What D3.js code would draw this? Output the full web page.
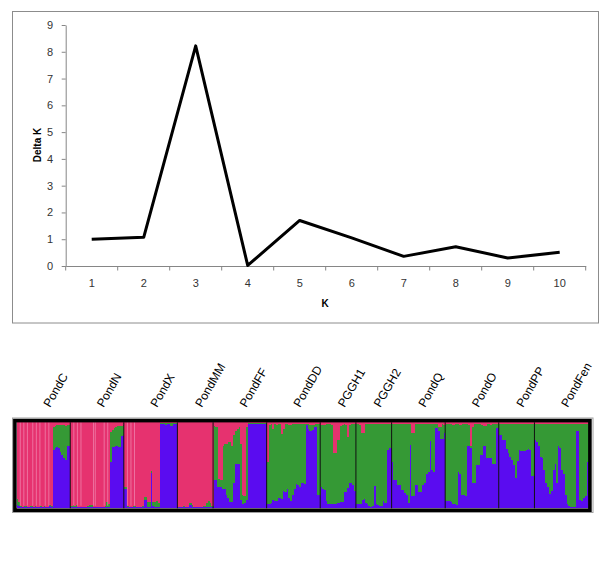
<!DOCTYPE html>
<html>
<head>
<meta charset="utf-8">
<script src="https://cdn.jsdelivr.net/npm/d3@7"></script>
<title>Delta K and STRUCTURE plot</title>
<style>
  body { margin: 0; background: #fff; }
  text { font-family: "Liberation Sans", Arial, sans-serif; }
</style>
</head>
<body>
<svg width="607" height="570"></svg>
<script>
// ---- Delta K data ----
const kValues = [1, 2, 3, 4, 5, 6, 7, 8, 9, 10];
const deltaK = [1.0, 1.07, 8.22, 0.02, 1.70, 1.05, 0.36, 0.72, 0.30, 0.51];
const yTicks = [0, 1, 2, 3, 4, 5, 6, 7, 8, 9];

// ---- STRUCTURE data (ancestry per individual, pink = 1 - blue - green) ----
const popNames = ["PondC", "PondN", "PondX", "PondMM", "PondFF", "PondDD",
                  "PGGH1", "PGGH2", "PondQ", "PondO", "PondPP", "PondFen"];

const blue_PondC = [.04,.03,.01,.01,.02,.01,.01,.01,.02,.01,.01,.01,.01,.02,.01,.01,.01,.01,.03,.02,.68,.70,.71,.70,.66,.62,.58,.56,.72,.72];
const green_PondC = [.07,.04,.02,.01,.01,.02,.01,.02,.01,.01,.02,.01,.01,.01,.01,.02,.01,.01,.01,.01,.27,.26,.26,.27,.31,.35,.39,.40,.25,.25];

const blue_PondN = [.01,.01,.01,.02,.01,.01,.01,.01,.01,.01,.01,.01,.02,.01,.01,.01,.01,.01,.01,.01,.02,.01,.54,.71,.71,.72,.72,.71,.84,.85];
const green_PondN = [.02,.03,.02,.02,.01,.01,.01,.01,.01,.02,.03,.03,.02,.01,.01,.01,.01,.01,.01,.02,.05,.04,.35,.20,.22,.22,.24,.25,.12,.12];

const blue_PondX = [.23,.23,.01,.01,.01,.01,.02,.01,.01,.01,.01,.10,.10,.02,.02,.41,.03,.02,.02,.02,.98,.98,.98,.97,.98,.98,.96,.98,.98,.98];
const green_PondX = [.02,.02,.02,.01,.01,.02,.01,.01,.01,.01,.02,.03,.03,.05,.05,.02,.04,.05,.06,.04,.01,.01,.01,.02,.01,.01,.03,.01,.01,.01];

const blue_PondMM = [.01,.01,.01,.01,.01,.01,.04,.04,.02,.01,.01,.01,.01,.01,.01,.01,.02,.02,.01,.01];
const green_PondMM = [.01,.01,.01,.02,.01,.01,.02,.02,.02,.01,.01,.01,.01,.01,.02,.02,.04,.06,.05,.02];

const blue_PondFF = [.33,.33,.25,.25,.25,.23,.23,.15,.12,.07,.07,.30,.52,.52,.52,.10,.05,.06,.10,.98,.98,.98,.98,.98,.98,.98,.98,.98,.98,.98];
const green_PondFF = [.63,.62,.70,.09,.08,.50,.52,.60,.65,.70,.65,.55,.38,.40,.42,.65,.10,.08,.85,.01,.01,.01,.01,.01,.01,.01,.01,.01,.01,.01];

const blue_PondDD = [.05,.05,.06,.10,.08,.08,.12,.12,.11,.20,.19,.22,.12,.09,.15,.22,.28,.27,.25,.30,.29,.28,.97,.92,.90,.91,.95,.95,.15,.15];
const green_PondDD = [.49,.92,.92,.82,.90,.89,.86,.86,.75,.72,.79,.76,.85,.88,.83,.76,.70,.71,.73,.68,.69,.70,.01,.06,.07,.06,.02,.03,.83,.83];

const blue_PGGH1 = [.25,.23,.21,.09,.05,.05,.05,.05,.05,.06,.06,.07,.07,.19,.19,.24,.29,.29,.27,.20];
const green_PGGH1 = [.72,.74,.76,.89,.93,.93,.92,.59,.59,.74,.74,.89,.90,.79,.78,.59,.68,.69,.71,.78];

const blue_PGGH2 = [.05,.05,.05,.10,.11,.06,.05,.03,.02,.03,.26,.05,.04,.03,.03,.08,.06,.68,.70,.70];
const green_PGGH2 = [.93,.93,.92,.77,.76,.92,.93,.95,.96,.95,.72,.93,.94,.95,.95,.90,.92,.30,.28,.28];

const blue_PondQ = [.54,.33,.33,.27,.27,.21,.21,.18,.15,.06,.74,.14,.14,.27,.27,.19,.19,.27,.30,.40,.42,.78,.45,.42,.93,.93,.90,.81,.81,.88];
const green_PondQ = [.44,.65,.65,.71,.71,.77,.77,.80,.83,.92,.24,.73,.73,.71,.71,.79,.79,.71,.68,.58,.56,.20,.53,.56,.05,.05,.05,.13,.17,.09];

const blue_PondO = [.09,.09,.08,.07,.05,.05,.04,.42,.40,.15,.15,.14,.73,.73,.70,.29,.29,.50,.50,.62,.62,.73,.73,.58,.58,.58,.52,.52,.93,.93];
const green_PondO = [.89,.89,.90,.91,.92,.93,.94,.56,.57,.83,.83,.84,.25,.24,.02,.66,.69,.48,.48,.36,.35,.23,.23,.40,.40,.39,.46,.46,.05,.05];

const blue_PondPP = [.85,.85,.79,.79,.69,.64,.60,.56,.50,.35,.55,.68,.67,.67,.67,.68,.69,.68,.38,.38];
const green_PondPP = [.13,.13,.19,.19,.29,.34,.38,.42,.48,.63,.43,.30,.31,.31,.31,.30,.29,.30,.60,.60];

const blue_PondFen = [.79,.77,.73,.60,.58,.45,.30,.25,.17,.20,.45,.52,.30,.73,.70,.44,.40,.15,.05,.03,.02,.01,.02,.90,.90,.10,.09,.12,.14,.54];
const green_PondFen = [.19,.21,.25,.38,.40,.53,.68,.73,.81,.78,.53,.46,.68,.25,.28,.54,.58,.83,.93,.95,.96,.97,.96,.08,.08,.88,.89,.86,.84,.44];

// light seams visible between some pink bars (individual index within population)
const seams_PondC = [2, 4, 6, 9, 11, 13, 16, 18];
const seams_PondN = [2, 4, 6, 13, 14, 19, 21];
const seams_PondX = [2, 4, 6];

const popBlue = [blue_PondC, blue_PondN, blue_PondX, blue_PondMM, blue_PondFF, blue_PondDD,
                 blue_PGGH1, blue_PGGH2, blue_PondQ, blue_PondO, blue_PondPP, blue_PondFen];
const popGreen = [green_PondC, green_PondN, green_PondX, green_PondMM, green_PondFF, green_PondDD,
                  green_PGGH1, green_PGGH2, green_PondQ, green_PondO, green_PondPP, green_PondFen];
const popSeams = [seams_PondC, seams_PondN, seams_PondX, [], [], [], [], [], [], [], [], []];

const svg = d3.select('svg');

// ================= Delta K line chart =================
const axisGrey = '#868686';

svg.append('rect')
  .attr('x', 12.5).attr('y', 11.5)
  .attr('width', 586).attr('height', 311.5)
  .attr('fill', 'none').attr('stroke', '#8c8c8c');

const xK = d3.scaleBand().domain(kValues).range([65.7, 585.7]);
const yK = d3.scaleLinear().domain([0, 9]).range([266, 25]);

// y axis
const gy = svg.append('g')
  .attr('transform', 'translate(65.7,0)')
  .call(d3.axisLeft(yK).tickValues(yTicks).tickSize(4).tickPadding(8.5).tickSizeOuter(0));
gy.select('.domain').attr('stroke', axisGrey);
gy.selectAll('.tick line').attr('stroke', axisGrey);
gy.selectAll('.tick text').attr('fill', '#333').style('font-size', '11px');

// x axis (category axis, ticks between categories)
const gx = svg.append('g')
  .attr('transform', 'translate(0,266)')
  .call(d3.axisBottom(xK).tickSize(0).tickPadding(13.5).tickSizeOuter(0));
gx.select('.domain').attr('stroke', axisGrey);
gx.selectAll('.tick text').attr('fill', '#333').style('font-size', '11px');
gx.selectAll('.sep')
  .data(kValues.map(k => xK(k)).concat([xK.range()[1]]))
  .enter().append('line')
    .attr('x1', d => d).attr('x2', d => d)
    .attr('y1', 0).attr('y2', 4.5)
    .attr('stroke', axisGrey);

// line
const line = d3.line()
  .x((d, i) => xK(kValues[i]) + xK.bandwidth() / 2)
  .y(d => yK(d));
svg.append('path')
  .datum(deltaK)
  .attr('d', line)
  .attr('fill', 'none')
  .attr('stroke', '#000')
  .attr('stroke-width', 3)
  .attr('stroke-linejoin', 'round');

svg.append('text')
  .attr('transform', 'translate(40.5,145) rotate(-90)')
  .attr('text-anchor', 'middle')
  .style('font-size', '10px').style('font-weight', 'bold')
  .text('Delta K');

svg.append('text')
  .attr('x', 325).attr('y', 306.5)
  .attr('text-anchor', 'middle')
  .style('font-size', '10px').style('font-weight', 'bold')
  .text('K');

// ================= STRUCTURE bar plot =================
const colors = { blue: '#5a0cf0', green: '#359935', pink: '#e6326f' };

const individuals = [];
const popStart = [];
popNames.forEach((name, p) => {
  popStart.push(individuals.length);
  popBlue[p].forEach((b, i) => {
    const g = popGreen[p][i];
    individuals.push({ pop: name, i: i, blue: b, green: g, pink: Math.max(0, 1 - b - g) });
  });
});
popStart.push(individuals.length);

const xI = d3.scaleBand().domain(d3.range(individuals.length)).range([16.7, 588]);
const yI = d3.scaleLinear().domain([0, 1]).range([508.3, 422.3]);

const stack = d3.stack().keys(['blue', 'green', 'pink']);
const layers = stack(individuals);

const gBars = svg.append('g').attr('shape-rendering', 'crispEdges');
layers.forEach(layer => {
  gBars.selectAll(null)
    .data(layer)
    .enter().append('rect')
      .attr('x', (d, i) => xI(i))
      .attr('width', xI.bandwidth() + 0.5)
      .attr('y', d => yI(d[1]))
      .attr('height', d => yI(d[0]) - yI(d[1]))
      .attr('fill', colors[layer.key]);
});

// light seams
popNames.forEach((name, p) => {
  svg.selectAll(null)
    .data(popSeams[p])
    .enter().append('line')
      .attr('x1', d => xI(popStart[p] + d)).attr('x2', d => xI(popStart[p] + d))
      .attr('y1', yI(1)).attr('y2', yI(0.03))
      .attr('stroke', '#f08cb4').attr('stroke-width', 0.7);
});

// population separators
svg.selectAll('.popsep')
  .data(popStart.slice(1, -1))
  .enter().append('line')
    .attr('x1', d => xI(d)).attr('x2', d => xI(d))
    .attr('y1', yI(1)).attr('y2', yI(0))
    .attr('stroke', '#111').attr('stroke-width', 1);

// frame
svg.append('rect')
  .attr('x', 12.5).attr('y', 418)
  .attr('width', 580.5).attr('height', 94.5)
  .attr('fill', 'none').attr('stroke', '#a0a0a0').attr('stroke-width', 1);
svg.append('rect')
  .attr('x', 14.9).attr('y', 420.6)
  .attr('width', 575).attr('height', 89.6)
  .attr('fill', 'none').attr('stroke', '#000').attr('stroke-width', 3.6);

// population labels
svg.selectAll('.poplab')
  .data(popNames)
  .enter().append('text')
    .attr('transform', (d, p) => {
      const cx = (xI(popStart[p]) + xI(popStart[p + 1] - 1) + xI.bandwidth()) / 2 + 6.5;
      return `translate(${cx},408) rotate(-60)`;
    })
    .style('font-size', '12px')
    .attr('fill', '#000')
    .text(d => d);
</script>
</body>
</html>
